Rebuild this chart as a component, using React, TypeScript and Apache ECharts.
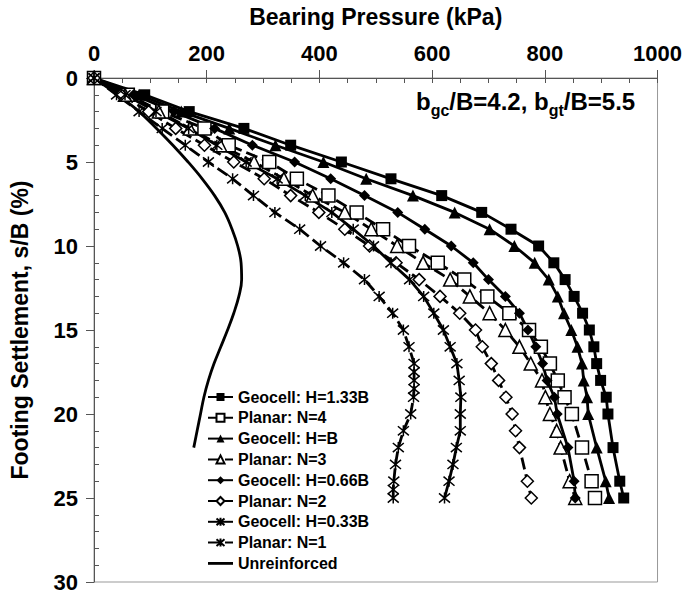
import React, { useEffect, useRef } from "react";
import * as echarts from "echarts";

const FONT = "'Liberation Sans', Arial, Helvetica, sans-serif";

// Axis ticks
const xTicks = [0, 200, 400, 600, 800, 1000];
const yTicks = [0, 5, 10, 15, 20, 25, 30];

// Settlement levels, s/B (%)
const settlementA = [0, 1, 2, 3, 4, 5, 6, 7, 8, 9, 10, 11, 12, 13, 14, 15, 16, 17, 18, 19, 20, 22, 24, 25];
const settlementB = [0, 1, 2, 3, 4, 5, 6, 7, 8, 9, 10, 11, 12, 13, 14, 15, 16, 17, 18, 19, 20, 21, 22, 24, 25];
const settlementC = [0, 1, 2, 3, 4, 5, 6, 7, 8, 9, 10, 11, 12, 13, 14, 15, 16, 17, 18, 19, 20, 21, 22, 23, 24, 25];
const settlementD = [0, 1, 2, 3, 4, 5, 6, 7, 8, 9, 10, 11, 12, 13, 14, 15, 16, 17, 17.5, 18, 18.5, 19, 20, 21, 22, 23, 24, 24.5, 25];
const settlementE = [0, 1, 2, 3, 4, 5, 6, 7, 8, 9, 10, 11, 12, 13, 14, 15, 16, 17, 18, 19, 20, 21, 22];

// Bearing pressures (kPa)
const geocell133 = [0, 90, 169, 266, 349, 439, 527, 617, 688, 740, 789, 816, 836, 852, 867, 879, 887, 892, 899, 909, 912, 921, 933, 940];
const planar4 = [0, 60, 121, 196, 239, 311, 360, 416, 466, 513, 559, 610, 657, 698, 737, 772, 793, 809, 823, 835, 848, 866, 883, 889];
const geocellB = [0, 80, 155, 240, 322, 407, 483, 566, 640, 702, 746, 782, 807, 823, 834, 847, 858, 866, 869, 875, 877, 892, 908, 914];
const planar3 = [0, 55, 115, 170, 224, 284, 337, 388, 445, 492, 538, 584, 632, 667, 702, 730, 755, 775, 795, 801, 809, 821, 828, 844, 854];
const geocell066 = [0, 70, 142, 214, 281, 356, 420, 480, 539, 587, 634, 673, 700, 730, 755, 770, 784, 796, 804, 817, 822, 841, 852, 854];
const planar2 = [0, 48, 97, 145, 196, 248, 302, 349, 399, 445, 489, 536, 577, 614, 649, 677, 689, 705, 718, 731, 742, 748, 755, 769, 776];
const geocell033 = [0, 55, 110, 168, 218, 270, 325, 375, 422, 460, 496, 527, 560, 585, 603, 620, 632, 644, 648, 651, 650, 650, 643, 637, 630, 622];
const planar1 = [0, 40, 80, 121, 162, 203, 246, 283, 321, 365, 402, 443, 480, 506, 530, 549, 559, 568, 568, 568, 568, 567, 562, 549, 540, 535, 532, 531, 531];
const unreinforced = [0, 42, 80, 111, 140, 167, 192, 214, 232, 245, 255, 261, 262, 257, 248, 237, 225, 213, 203, 195, 189, 183, 177];

const ASTERISK = "path://M0,0L10,10M10,0L0,10M5,-1L5,11";
const LINE_ICON = "path://M0,0L25,0L25,2.8L0,2.8Z";

function makeSeries(
  name: string,
  settle: number[],
  press: number[],
  symbol: string,
  filled: boolean,
  dashed: boolean,
  size: number
) {
  return {
    name,
    type: "line",
    xAxisIndex: 0,
    yAxisIndex: 0,
    data: settle.map((s, i) => [press[i], s]),
    symbol,
    symbolSize: size,
    showSymbol: symbol !== "none",
    lineStyle: { color: "#000", width: 2.8, type: dashed ? [12, 5] : "solid" },
    itemStyle: {
      color: filled ? "#000" : symbol === ASTERISK ? "transparent" : "#fff",
      borderColor: "#000",
      borderWidth: filled ? 0 : 1.5,
    },
    emphasis: { disabled: true },
  } as any;
}

export default function App() {
  const ref = useRef<HTMLDivElement>(null);
  useEffect(() => {
    if (!ref.current) return;
    const chart = echarts.init(ref.current, undefined, { renderer: "svg" });
    const tickColor = "#555";
    const labelStyle = { fontFamily: FONT, fontWeight: "bold", fontSize: 22, color: "#000" };
    const nameStyle = { fontFamily: FONT, fontWeight: "bold", fontSize: 23, color: "#000" };
    const series = [
      makeSeries("Geocell: H=1.33B", settlementA, geocell133, "rect", true, false, 11),
      makeSeries("Planar: N=4", settlementA, planar4, "rect", false, true, 13),
      makeSeries("Geocell: H=B", settlementA, geocellB, "triangle", true, false, 12),
      makeSeries("Planar: N=3", settlementB, planar3, "triangle", false, true, 13),
      makeSeries("Geocell: H=0.66B", settlementA, geocell066, "diamond", true, false, 11),
      makeSeries("Planar: N=2", settlementB, planar2, "diamond", false, true, 12),
      makeSeries("Geocell: H=0.33B", settlementC, geocell033, ASTERISK, false, false, 11),
      makeSeries("Planar: N=1", settlementD, planar1, ASTERISK, false, true, 11),
      { ...makeSeries("Unreinforced", settlementE, unreinforced, "none", true, false, 0), smooth: 0.4 },
    ];
    chart.setOption({
      animation: false,
      backgroundColor: "#fff",
      grid: {
        left: 88,
        top: 78,
        width: 570,
        height: 504,
        show: true,
        borderColor: "#999",
        borderWidth: 1,
        backgroundColor: "transparent",
      },
      xAxis: [
        {
          type: "value",
          position: "top",
          min: xTicks[0],
          max: xTicks[xTicks.length - 1],
          interval: xTicks[1] - xTicks[0],
          name: "Bearing Pressure (kPa)",
          nameLocation: "middle",
          nameGap: 50,
          nameTextStyle: { ...nameStyle },
          axisLine: { show: true, lineStyle: { color: tickColor, width: 1 } },
          axisTick: { show: true, inside: false, length: 8, lineStyle: { color: tickColor } },
          axisLabel: { ...labelStyle, margin: 14, formatter: (v: number) => String(v) },
          splitLine: { show: false },
        },
        {
          type: "value",
          position: "top",
          min: xTicks[0],
          max: xTicks[xTicks.length - 1],
          interval: xTicks[1] - xTicks[0],
          axisLine: { show: false },
          axisTick: { show: true, inside: true, length: 5, lineStyle: { color: tickColor } },
          minorTick: { show: true, splitNumber: 4, length: 5, lineStyle: { color: tickColor } },
          axisLabel: { show: false },
          splitLine: { show: false },
        },
      ],
      yAxis: [
        {
          type: "value",
          position: "left",
          inverse: true,
          min: yTicks[0],
          max: yTicks[yTicks.length - 1],
          interval: yTicks[1] - yTicks[0],
          name: "Footing Settlement, s/B (%)",
          nameLocation: "middle",
          nameGap: 63,
          nameRotate: 90,
          nameTextStyle: { ...nameStyle },
          axisLine: { show: true, lineStyle: { color: tickColor, width: 1 } },
          axisTick: { show: true, inside: false, length: 8, lineStyle: { color: tickColor } },
          axisLabel: { ...labelStyle, margin: 16 },
          splitLine: { show: false },
        },
        {
          type: "value",
          position: "left",
          inverse: true,
          min: yTicks[0],
          max: yTicks[yTicks.length - 1],
          interval: yTicks[1] - yTicks[0],
          axisLine: { show: false },
          axisTick: { show: false, inside: true, length: 5, lineStyle: { color: tickColor } },
          minorTick: { show: true, splitNumber: 5, length: 5, lineStyle: { color: tickColor } },
          axisLabel: { show: false },
          splitLine: { show: false },
        },
      ],
      legend: {
        orient: "vertical",
        left: 207,
        top: 389,
        padding: 0,
        itemWidth: 25,
        itemHeight: 10,
        itemGap: 4.8,
        selectedMode: false,
        textStyle: { fontFamily: FONT, fontWeight: "bold", fontSize: 16, color: "#000", lineHeight: 16 },
        data: series.map((s) =>
          s.name === "Unreinforced" ? { name: s.name, icon: LINE_ICON } : { name: s.name }
        ),
      },
      graphic: [
        {
          type: "text",
          x: 416,
          y: 89,
          style: {
            text: "{n|b}{s|gc}{n|/B=4.2, b}{s|gt}{n|/B=5.5}",
            rich: {
              n: { fontFamily: FONT, fontWeight: "bold", fontSize: 24, lineHeight: 27, verticalAlign: "top", fill: "#000" },
              s: { fontFamily: FONT, fontWeight: "bold", fontSize: 16, lineHeight: 16, verticalAlign: "top", padding: [13, 0, 0, 0], fill: "#000" },
            },
          },
        },
      ],
      series,
    });
    return () => chart.dispose();
  }, []);
  return (
    <div
      ref={ref}
      style={{ position: "fixed", left: 0, top: 0, width: 685, height: 599 }}
    />
  );
}
